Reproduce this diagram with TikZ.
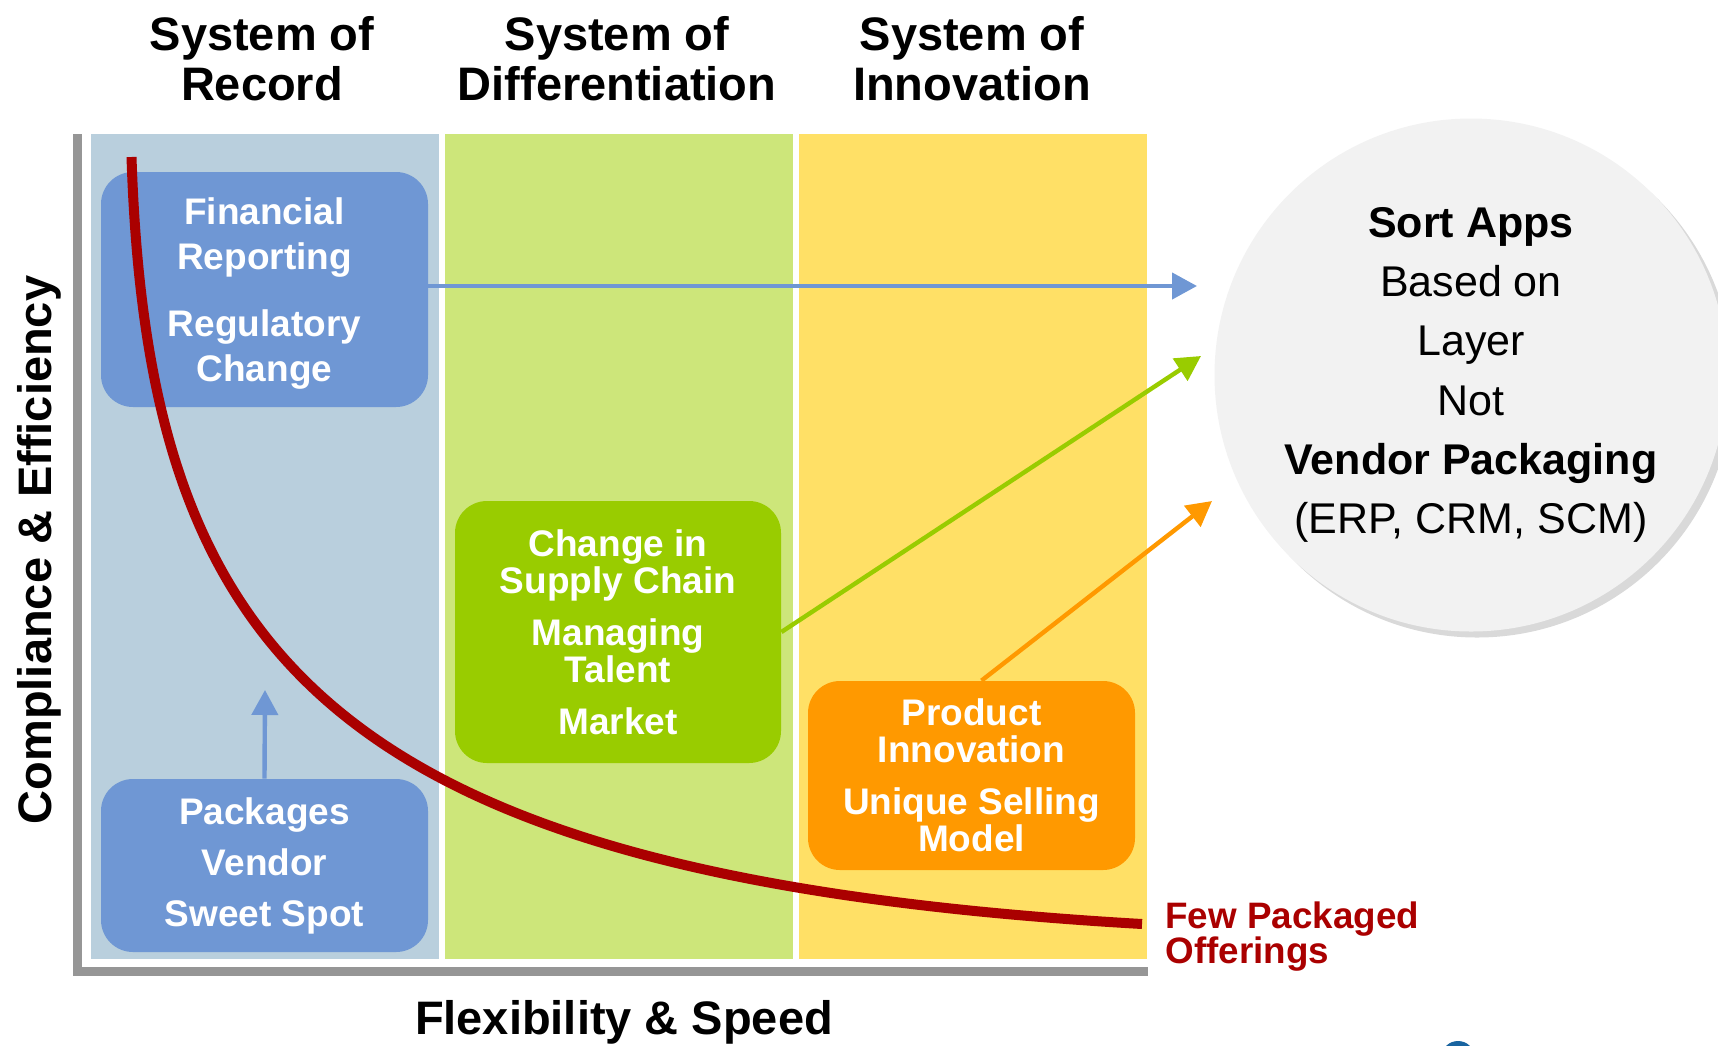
\documentclass[tikz,border=0pt]{standalone}
\usepackage{fontspec}
\setmainfont{Liberation Sans}
\usetikzlibrary{arrows.meta,shadows}
\definecolor{recblue}{RGB}{185,207,221}
\definecolor{difgreen}{RGB}{205,230,122}
\definecolor{innyellow}{RGB}{255,224,102}
\definecolor{appblue}{RGB}{111,151,212}
\definecolor{appgreen}{RGB}{153,204,0}
\definecolor{apporange}{RGB}{255,153,0}
\definecolor{axisgray}{RGB}{150,150,150}
\definecolor{curvered}{RGB}{170,0,0}
\definecolor{circgray}{RGB}{242,242,242}
\definecolor{logoblue}{RGB}{25,100,160}

\begin{document}
\begin{tikzpicture}[x=0.5pt,y=-0.5pt,
  header/.style={font=\bfseries\fontsize{23.5}{25}\selectfont, align=center, inner sep=0pt},
  appbox/.style={rounded corners=16pt, text=white, align=center, inner sep=0pt,
    minimum width=163.5pt, font=\bfseries\fontsize{18.5}{18.5}\selectfont},
  link/.style={-{Triangle[length=12.5pt,width=13pt]}, line width=2.2pt}]
\useasboundingbox (0,0) rectangle (1718,1045);
% --- Columns ---
\fill[recblue] (91,134) rectangle (439,959);
\fill[difgreen] (445,134) rectangle (793,959);
\fill[innyellow] (799,134) rectangle (1147,959);
% Axes
\draw[axisgray, line width=4.5pt] (77.5,134) -- (77.5,971) -- (1148,971);
\node[font=\bfseries\fontsize{23.5}{25}\selectfont, rotate=90, anchor=base]
  (yaxis) at (51.5,550) {Compliance \& Efficiency};
\node[font=\bfseries\fontsize{23.5}{25}\selectfont, anchor=base]
  (xaxis) at (624,1034) {Flexibility \& Speed};
% Column headers
\node[header] (hrecord) at (262,59) {System of\\Record};
\node[header] (hdiff) at (617,59) {System of\\Differentiation};
\node[header] (hinno) at (972,59) {System of\\Innovation};
% --- Application boxes ---
\node[appbox, fill=appblue, minimum height=117.5pt, text depth=0pt,
  font=\bfseries\fontsize{18.5}{22.5}\selectfont]
  (finrep) at (264.5,289.5) {Financial\\Reporting\\[11pt]Regulatory\\Change};
\node[appbox, fill=appblue, minimum height=86.5pt,
  font=\bfseries\fontsize{18.5}{25.5}\selectfont]
  (vendor) at (264.5,865.5) {Packages\\Vendor\\Sweet Spot};
\node[appbox, fill=appgreen, minimum width=163pt, minimum height=131pt]
  (supply) at (618,632) {Change in\\Supply Chain\\[7.5pt]Managing\\Talent\\[7.5pt]Market};
\node[appbox, fill=apporange, minimum height=94.5pt]
  (prodinn) at (971.5,775.5) {Product\\Innovation\\[7.5pt]Unique Selling\\Model};
% --- Circle ---
\node[circle, fill=circgray, minimum size=256.5pt, inner sep=0pt, align=center,
  drop shadow={shadow xshift=3pt, shadow yshift=-3pt, opacity=0.3},
  font=\fontsize{21.5}{29.6}\selectfont]
  (sortapps) at (1471,375) {\textbf{Sort Apps}\\Based on\\Layer\\Not\\\textbf{Vendor Packaging}\\(ERP, CRM, SCM)};
% Arrows to the circle
\coordinate (tipfin) at (1197,286);
\coordinate (tipsup) at (1201,356);
\coordinate (tipprod) at (1212,501);
\coordinate (tipvendor) at (265,690);
\draw[link, appblue] (finrep.east |- tipfin) -- (tipfin);
\draw[link, appgreen] (supply.east) -- (tipsup);
\draw[link, apporange] ([xshift=5pt]prodinn.north) -- (tipprod);
\draw[link, appblue] (vendor.north) -- (tipvendor);
% --- Red curve ---
\draw[curvered, line width=5pt]
  (131.5,157) .. controls (148,657) and (329,877) .. (1142,924);
\node[font=\bfseries\fontsize{18.4}{17.5}\selectfont, text=curvered, align=left,
  anchor=north west, inner sep=0pt] (fewpack) at (1165,901) {Few Packaged\\Offerings};
% Logo edge
\fill[logoblue] (1458,1056) ellipse (16 and 15);
\end{tikzpicture}
\end{document}
